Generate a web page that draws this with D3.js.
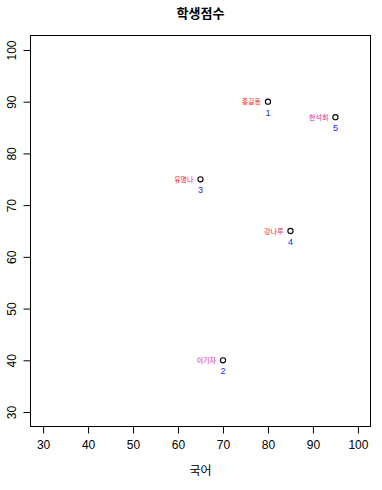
<!DOCTYPE html>
<html>
<head>
<meta charset="utf-8">
<script src="https://cdn.jsdelivr.net/npm/d3@7"></script>
<style>
  body { margin: 0; background: #fff; }
  text { font-family: Arial, "Liberation Sans", "Noto Sans CJK KR", sans-serif; }
</style>
</head>
<body>
<div id="chart"></div>
<script>
// student scores
const names = ["홍길동", "이기자", "유명나", "강나루", "한석희"];
const ids = ["1", "2", "3", "4", "5"];
const korean = [80, 70, 65, 85, 95];
const score = [90, 40, 75, 65, 87];
const nameColors = ["#ff2020", "#e0208a", "#ff2020", "#f02040", "#e0208a"];
const xTicks = [30, 40, 50, 60, 70, 80, 90, 100];
const yTicks = [30, 40, 50, 60, 70, 80, 90, 100];

const W = 382, H = 490;
const box = { left: 30.5, right: 370.5, top: 35.5, bottom: 426.5 };

const svg = d3.select("#chart").append("svg")
  .attr("width", W).attr("height", H);

// R style: 4% padding on each side
const x = d3.scaleLinear().domain([27.2, 102.8]).range([box.left, box.right]);
const y = d3.scaleLinear().domain([27.2, 102.8]).range([box.bottom, box.top]);

// frame
svg.append("rect")
  .attr("x", box.left).attr("y", box.top)
  .attr("width", box.right - box.left).attr("height", box.bottom - box.top)
  .attr("fill", "none").attr("stroke", "#000");

// x axis
const xAxis = svg.append("g")
  .attr("transform", "translate(0," + box.bottom + ")")
  .call(d3.axisBottom(x).tickValues(xTicks).tickSize(7).tickPadding(7));
xAxis.select(".domain").attr("d", "M" + x(30) + ",0H" + x(100));
xAxis.selectAll("text").style("font-size", "12px").attr("fill", "#000");

// y axis
const yAxis = svg.append("g")
  .attr("transform", "translate(" + box.left + ",0)")
  .call(d3.axisLeft(y).tickValues(yTicks).tickSize(7).tickPadding(7));
yAxis.select(".domain").attr("d", "M0," + y(30) + "V" + y(100));
yAxis.selectAll("text")
  .style("font-size", "12px").attr("fill", "#000")
  .attr("text-anchor", "middle")
  .attr("x", 0).attr("dy", 0)
  .attr("transform", d => "translate(-15," + 0 + ") rotate(-90)");

// title
svg.append("text")
  .attr("x", (box.left + box.right) / 2).attr("y", 18)
  .attr("text-anchor", "middle")
  .style("font-size", "13px").style("font-weight", "bold")
  .text("학생점수");

// x label
svg.append("text")
  .attr("x", (box.left + box.right) / 2).attr("y", 475)
  .attr("text-anchor", "middle")
  .style("font-size", "12px")
  .text("국어");

// points
svg.selectAll(".pt")
  .data(korean)
  .enter().append("circle")
  .attr("class", "pt")
  .attr("cx", d => x(d))
  .attr("cy", (d, i) => y(score[i]))
  .attr("r", 2.6)
  .attr("fill", "none").attr("stroke", "#000").attr("stroke-width", 1.1);

// names to the left
svg.selectAll(".nm")
  .data(names)
  .enter().append("text")
  .attr("class", "nm")
  .attr("x", (d, i) => x(korean[i]) - 7)
  .attr("y", (d, i) => y(score[i]) + 2.5)
  .attr("text-anchor", "end")
  .style("font-size", "7px")
  .attr("fill", (d, i) => nameColors[i])
  .text(d => d);

// ids below
svg.selectAll(".id")
  .data(ids)
  .enter().append("text")
  .attr("class", "id")
  .attr("x", (d, i) => x(korean[i]))
  .attr("y", (d, i) => y(score[i]) + 14)
  .attr("text-anchor", "middle")
  .style("font-size", "9px")
  .attr("fill", "#2020ff")
  .text(d => d);
</script>
</body>
</html>
